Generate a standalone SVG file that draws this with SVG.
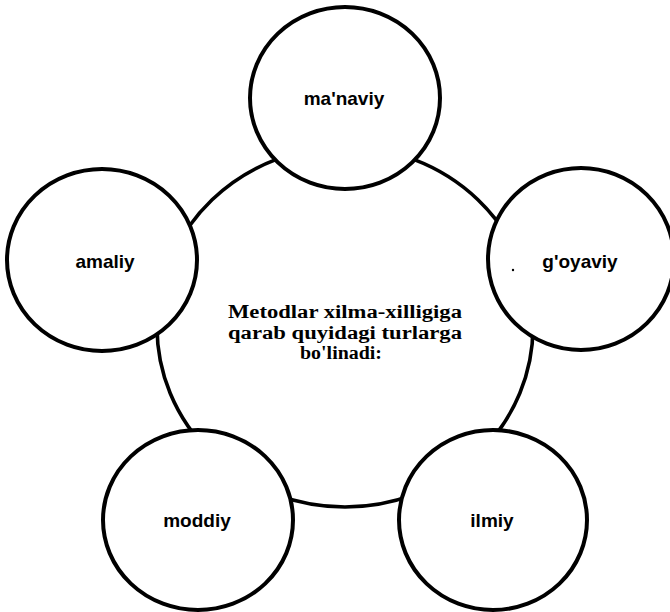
<svg xmlns="http://www.w3.org/2000/svg" width="670" height="612" viewBox="0 0 670 612">
<style>
.c{fill:#fff;stroke:#000;stroke-width:4}
.lbl{font-family:"Liberation Sans",Arial,sans-serif;font-weight:bold;font-size:19px;text-anchor:middle;fill:#000}
.mid{font-family:"Liberation Serif","Times New Roman",serif;font-weight:bold;font-size:18px;text-anchor:middle;fill:#000}
</style>
<rect width="670" height="612" fill="#fff"/>
<g id="center">
<ellipse class="c" cx="345" cy="327" rx="188" ry="180" style="stroke-width:3.6"/>
<text class="mid" x="345" y="318" textLength="234" lengthAdjust="spacingAndGlyphs">Metodlar xilma-xilligiga</text>
<text class="mid" x="345" y="338.5" textLength="234" lengthAdjust="spacingAndGlyphs">qarab quyidagi turlarga</text>
<text class="mid" x="341" y="359" textLength="82" lengthAdjust="spacingAndGlyphs">bo'linadi:</text>
</g>
<g id="connectors"></g>
<g id="manaviy">
<ellipse class="c" cx="345" cy="98" rx="95" ry="91"/>
<text class="lbl" x="344" y="105">ma'naviy</text>
</g>
<g id="amaliy">
<ellipse class="c" cx="102" cy="260" rx="95" ry="91"/>
<text class="lbl" x="105" y="268">amaliy</text>
</g>
<g id="goyaviy">
<ellipse class="c" cx="581" cy="259" rx="93" ry="91"/>
<text class="lbl" x="580" y="268">g'oyaviy</text>
<circle cx="513" cy="270" r="1.2" fill="#000"/>
</g>
<g id="moddiy">
<ellipse class="c" cx="198" cy="520" rx="95" ry="90"/>
<text class="lbl" x="197" y="527">moddiy</text>
</g>
<g id="ilmiy">
<ellipse class="c" cx="493" cy="520" rx="94" ry="90"/>
<text class="lbl" x="492" y="527">ilmiy</text>
</g>
</svg>
